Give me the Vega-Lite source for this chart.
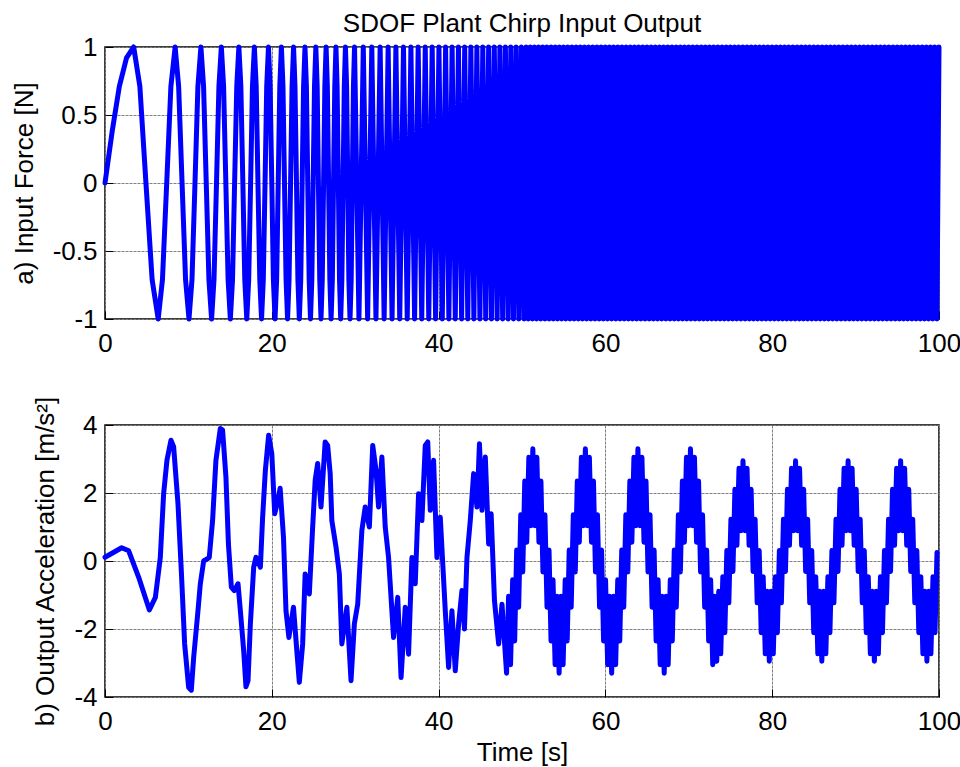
{
"$schema":"https://vega.github.io/schema/vega-lite/v6.json",
"background":"white",
"padding":{"left":10,"top":10,"right":20,"bottom":5},
"config":{
 "font":"Liberation Sans",
 "view":{"stroke":"#000","strokeWidth":1.5},
 "axis":{"domain":false,"labelFont":"Liberation Sans","labelFontSize":26,"labelColor":"#000","labelOverlap":false,"labelFlush":false,"tickColor":"#000","tickSize":-8,"tickWidth":1,"titleFont":"Liberation Sans","titleFontSize":26,"titleFontWeight":"normal","titleColor":"#000","gridColor":"#808080","gridDash":[3,1],"gridWidth":1,"gridOpacity":1},
 "axisX":{"labelPadding":19,"titlePadding":5},
 "axisY":{"labelPadding":16,"titlePadding":15}
},
"spacing":106,
"bounds":"flush",
"datasets":{
"a":[{"t":0,"v":0},{"t":0.86,"v":0.38},{"t":1.72,"v":0.71},{"t":2.58,"v":0.92},{"t":3.44,"v":1},
{"t":4.18,"v":0.71},{"t":4.91,"v":0},{"t":5.65,"v":-0.71},{"t":6.38,"v":-1},
{"t":6.89,"v":-0.71},{"t":7.4,"v":0},{"t":7.9,"v":0.71},{"t":8.41,"v":1},
{"t":8.83,"v":0.71},{"t":9.24,"v":0},{"t":9.66,"v":-0.71},{"t":10.07,"v":-1},
{"t":10.43,"v":-0.71},{"t":10.79,"v":0},{"t":11.14,"v":0.71},{"t":11.5,"v":1},
{"t":11.82,"v":0.71},{"t":12.14,"v":0},{"t":12.46,"v":-0.71},{"t":12.78,"v":-1},
{"t":13.07,"v":-0.71},{"t":13.37,"v":0},{"t":13.66,"v":0.71},{"t":13.95,"v":1},
{"t":14.22,"v":0.71},{"t":14.49,"v":0},{"t":14.76,"v":-0.71},{"t":15.03,"v":-1},
{"t":15.29,"v":-0.71},{"t":15.54,"v":0},{"t":15.8,"v":0.71},{"t":16.05,"v":1},
{"t":16.29,"v":0.71},{"t":16.53,"v":0},{"t":16.76,"v":-0.71},{"t":17,"v":-1},
{"t":17.23,"v":-0.71},{"t":17.46,"v":0},{"t":17.68,"v":0.71},{"t":17.91,"v":1},
{"t":18.13,"v":0.71},{"t":18.34,"v":0},{"t":18.56,"v":-0.71},{"t":18.77,"v":-1},
{"t":18.98,"v":-0.71},{"t":19.19,"v":0},{"t":19.39,"v":0.71},{"t":19.6,"v":1},
{"t":19.8,"v":0.71},{"t":20,"v":0},{"t":20.19,"v":-0.71},{"t":20.39,"v":-1},
{"t":20.58,"v":-0.71},{"t":20.77,"v":0},{"t":20.96,"v":0.71},{"t":21.15,"v":1},
{"t":21.34,"v":0.71},{"t":21.52,"v":0},{"t":21.71,"v":-0.71},{"t":21.89,"v":-1},
{"t":22.07,"v":-0.71},{"t":22.25,"v":0},{"t":22.43,"v":0.71},{"t":22.61,"v":1},
{"t":22.78,"v":0.71},{"t":22.96,"v":0},{"t":23.13,"v":-0.71},{"t":23.3,"v":-1},
{"t":23.47,"v":-0.71},{"t":23.64,"v":0},{"t":23.81,"v":0.71},{"t":23.98,"v":1},
{"t":24.15,"v":0.71},{"t":24.31,"v":0},{"t":24.48,"v":-0.71},{"t":24.64,"v":-1},
{"t":24.8,"v":-0.71},{"t":24.96,"v":0},{"t":25.12,"v":0.71},{"t":25.28,"v":1},
{"t":25.44,"v":0.71},{"t":25.59,"v":0},{"t":25.75,"v":-0.71},{"t":25.9,"v":-1},
{"t":26.05,"v":-0.71},{"t":26.21,"v":0},{"t":26.36,"v":0.71},{"t":26.51,"v":1},
{"t":26.66,"v":0.71},{"t":26.81,"v":0},{"t":26.96,"v":-0.71},{"t":27.11,"v":-1},
{"t":27.26,"v":-0.71},{"t":27.4,"v":0},{"t":27.55,"v":0.71},{"t":27.69,"v":1},
{"t":27.83,"v":0.71},{"t":27.98,"v":0},{"t":28.12,"v":-0.71},{"t":28.26,"v":-1},
{"t":28.4,"v":-0.71},{"t":28.55,"v":0},{"t":28.69,"v":0.71},{"t":28.83,"v":1},
{"t":28.97,"v":0.71},{"t":29.11,"v":0},{"t":29.24,"v":-0.71},{"t":29.38,"v":-1},
{"t":29.52,"v":-0.71},{"t":29.65,"v":0},{"t":29.79,"v":0.71},{"t":29.92,"v":1},
{"t":30.45,"v":-1},{"t":30.97,"v":1},{"t":31.49,"v":-1},{"t":31.99,"v":1},{"t":32.49,"v":-1},{"t":32.99,"v":1},{"t":33.47,"v":-1},{"t":33.95,"v":1},{"t":34.42,"v":-1},{"t":34.88,"v":1},{"t":35.34,"v":-1},{"t":35.79,"v":1},{"t":36.24,"v":-1},{"t":36.68,"v":1},{"t":37.12,"v":-1},{"t":37.55,"v":1},{"t":37.98,"v":-1},{"t":38.4,"v":1},{"t":38.82,"v":-1},{"t":39.23,"v":1},{"t":39.64,"v":-1},{"t":40.04,"v":1},{"t":40.44,"v":-1},{"t":40.84,"v":1},{"t":41.23,"v":-1},{"t":41.62,"v":1},{"t":42,"v":-1},{"t":42.38,"v":1},{"t":42.76,"v":-1},{"t":43.13,"v":1},{"t":43.5,"v":-1},{"t":43.87,"v":1},{"t":44.23,"v":-1},{"t":44.59,"v":1},{"t":44.95,"v":-1},{"t":45.3,"v":1},{"t":45.65,"v":-1},{"t":46,"v":1},{"t":46.34,"v":-1},{"t":46.68,"v":1},{"t":47.02,"v":-1},{"t":47.35,"v":1},{"t":47.68,"v":-1},{"t":48.01,"v":1},{"t":48.34,"v":-1},{"t":48.66,"v":1},{"t":48.98,"v":-1},{"t":49.3,"v":1},{"t":49.62,"v":-1},{"t":49.93,"v":1},
{"t":50.25,"v":-1},{"t":50.5,"v":1},{"t":50.75,"v":-1},{"t":51,"v":1},
{"t":51.25,"v":-1},{"t":51.5,"v":1},{"t":51.75,"v":-1},{"t":52,"v":1},
{"t":52.25,"v":-1},{"t":52.5,"v":1},{"t":52.75,"v":-1},{"t":53,"v":1},
{"t":53.25,"v":-1},{"t":53.5,"v":1},{"t":53.75,"v":-1},{"t":54,"v":1},
{"t":54.25,"v":-1},{"t":54.5,"v":1},{"t":54.75,"v":-1},{"t":55,"v":1},
{"t":55.25,"v":-1},{"t":55.5,"v":1},{"t":55.75,"v":-1},{"t":56,"v":1},
{"t":56.25,"v":-1},{"t":56.5,"v":1},{"t":56.75,"v":-1},{"t":57,"v":1},
{"t":57.25,"v":-1},{"t":57.5,"v":1},{"t":57.75,"v":-1},{"t":58,"v":1},
{"t":58.25,"v":-1},{"t":58.5,"v":1},{"t":58.75,"v":-1},{"t":59,"v":1},
{"t":59.25,"v":-1},{"t":59.5,"v":1},{"t":59.75,"v":-1},{"t":60,"v":1},
{"t":60.25,"v":-1},{"t":60.5,"v":1},{"t":60.75,"v":-1},{"t":61,"v":1},
{"t":61.25,"v":-1},{"t":61.5,"v":1},{"t":61.75,"v":-1},{"t":62,"v":1},
{"t":62.25,"v":-1},{"t":62.5,"v":1},{"t":62.75,"v":-1},{"t":63,"v":1},
{"t":63.25,"v":-1},{"t":63.5,"v":1},{"t":63.75,"v":-1},{"t":64,"v":1},
{"t":64.25,"v":-1},{"t":64.5,"v":1},{"t":64.75,"v":-1},{"t":65,"v":1},
{"t":65.25,"v":-1},{"t":65.5,"v":1},{"t":65.75,"v":-1},{"t":66,"v":1},
{"t":66.25,"v":-1},{"t":66.5,"v":1},{"t":66.75,"v":-1},{"t":67,"v":1},
{"t":67.25,"v":-1},{"t":67.5,"v":1},{"t":67.75,"v":-1},{"t":68,"v":1},
{"t":68.25,"v":-1},{"t":68.5,"v":1},{"t":68.75,"v":-1},{"t":69,"v":1},
{"t":69.25,"v":-1},{"t":69.5,"v":1},{"t":69.75,"v":-1},{"t":70,"v":1},
{"t":70.25,"v":-1},{"t":70.5,"v":1},{"t":70.75,"v":-1},{"t":71,"v":1},
{"t":71.25,"v":-1},{"t":71.5,"v":1},{"t":71.75,"v":-1},{"t":72,"v":1},
{"t":72.25,"v":-1},{"t":72.5,"v":1},{"t":72.75,"v":-1},{"t":73,"v":1},
{"t":73.25,"v":-1},{"t":73.5,"v":1},{"t":73.75,"v":-1},{"t":74,"v":1},
{"t":74.25,"v":-1},{"t":74.5,"v":1},{"t":74.75,"v":-1},{"t":75,"v":1},
{"t":75.25,"v":-1},{"t":75.5,"v":1},{"t":75.75,"v":-1},{"t":76,"v":1},
{"t":76.25,"v":-1},{"t":76.5,"v":1},{"t":76.75,"v":-1},{"t":77,"v":1},
{"t":77.25,"v":-1},{"t":77.5,"v":1},{"t":77.75,"v":-1},{"t":78,"v":1},
{"t":78.25,"v":-1},{"t":78.5,"v":1},{"t":78.75,"v":-1},{"t":79,"v":1},
{"t":79.25,"v":-1},{"t":79.5,"v":1},{"t":79.75,"v":-1},{"t":80,"v":1},
{"t":80.25,"v":-1},{"t":80.5,"v":1},{"t":80.75,"v":-1},{"t":81,"v":1},
{"t":81.25,"v":-1},{"t":81.5,"v":1},{"t":81.75,"v":-1},{"t":82,"v":1},
{"t":82.25,"v":-1},{"t":82.5,"v":1},{"t":82.75,"v":-1},{"t":83,"v":1},
{"t":83.25,"v":-1},{"t":83.5,"v":1},{"t":83.75,"v":-1},{"t":84,"v":1},
{"t":84.25,"v":-1},{"t":84.5,"v":1},{"t":84.75,"v":-1},{"t":85,"v":1},
{"t":85.25,"v":-1},{"t":85.5,"v":1},{"t":85.75,"v":-1},{"t":86,"v":1},
{"t":86.25,"v":-1},{"t":86.5,"v":1},{"t":86.75,"v":-1},{"t":87,"v":1},
{"t":87.25,"v":-1},{"t":87.5,"v":1},{"t":87.75,"v":-1},{"t":88,"v":1},
{"t":88.25,"v":-1},{"t":88.5,"v":1},{"t":88.75,"v":-1},{"t":89,"v":1},
{"t":89.25,"v":-1},{"t":89.5,"v":1},{"t":89.75,"v":-1},{"t":90,"v":1},
{"t":90.25,"v":-1},{"t":90.5,"v":1},{"t":90.75,"v":-1},{"t":91,"v":1},
{"t":91.25,"v":-1},{"t":91.5,"v":1},{"t":91.75,"v":-1},{"t":92,"v":1},
{"t":92.25,"v":-1},{"t":92.5,"v":1},{"t":92.75,"v":-1},{"t":93,"v":1},
{"t":93.25,"v":-1},{"t":93.5,"v":1},{"t":93.75,"v":-1},{"t":94,"v":1},
{"t":94.25,"v":-1},{"t":94.5,"v":1},{"t":94.75,"v":-1},{"t":95,"v":1},
{"t":95.25,"v":-1},{"t":95.5,"v":1},{"t":95.75,"v":-1},{"t":96,"v":1},
{"t":96.25,"v":-1},{"t":96.5,"v":1},{"t":96.75,"v":-1},{"t":97,"v":1},
{"t":97.25,"v":-1},{"t":97.5,"v":1},{"t":97.75,"v":-1},{"t":98,"v":1},
{"t":98.25,"v":-1},{"t":98.5,"v":1},{"t":98.75,"v":-1},{"t":99,"v":1},
{"t":99.25,"v":-1},{"t":99.5,"v":1},{"t":99.75,"v":-1},{"t":100,"v":1}],
"b":[{"t":0,"v":0.11},{"t":1,"v":0.25},{"t":2,"v":0.39},{"t":2.84,"v":0.3},{"t":4.04,"v":-0.48},{"t":5.32,"v":-1.44},{"t":6.04,"v":-1.07},{"t":6.63,"v":0.1},{"t":7.03,"v":1.98},{"t":7.43,"v":2.96},{"t":7.91,"v":3.55},{"t":8.23,"v":3.36},{"t":8.75,"v":1.69},{"t":9.15,"v":-0.28},{"t":9.55,"v":-2.44},{"t":10.03,"v":-3.72},{"t":10.35,"v":-3.8},{"t":10.63,"v":-2.84},{"t":11.15,"v":-1.46},{"t":11.43,"v":-0.67},{"t":11.83,"v":0},{"t":12.5,"v":0.1},{"t":12.9,"v":1.19},{"t":13.3,"v":2.96},{"t":13.83,"v":3.9},{"t":14.1,"v":3.85},{"t":14.5,"v":2.47},{"t":14.8,"v":0.5},{"t":15.15,"v":-0.77},{"t":15.5,"v":-0.87},{"t":15.95,"v":-0.67},{"t":16.23,"v":-1.46},{"t":16.63,"v":-2.64},{"t":16.9,"v":-3.7},{"t":17.15,"v":-3.52},{"t":17.43,"v":-1.85},{"t":17.83,"v":-0.18},{"t":18.1,"v":0.11},{"t":18.63,"v":-0.18},{"t":18.9,"v":1.29},{"t":19.23,"v":2.67},{"t":19.62,"v":3.7},{"t":20,"v":3.16},{"t":20.35,"v":1.39},{"t":20.74,"v":1.78},{"t":21,"v":2.14},{"t":21.4,"v":0.7},{"t":21.7,"v":-1.46},{"t":22.05,"v":-2.25},{"t":22.6,"v":-1.36},{"t":23,"v":-2.64},{"t":23.3,"v":-3.57},{"t":23.7,"v":-2.44},{"t":24,"v":-0.38},{"t":24.5,"v":-0.97},{"t":24.9,"v":1},{"t":25.2,"v":2.37},{"t":25.5,"v":2.87},{"t":25.9,"v":1.59},{"t":26.4,"v":3.5},{"t":26.7,"v":3.4},{"t":27,"v":2.57},{"t":27.2,"v":1.19},{"t":27.7,"v":0.41},{"t":28.1,"v":-0.38},{"t":28.4,"v":-2.44},{"t":29,"v":-1.36},{"t":29.5,"v":-3.52},{"t":29.9,"v":-1.85},{"t":30.3,"v":-1.27},{"t":30.8,"v":0.9},{"t":31.2,"v":1.59},{"t":31.7,"v":1},{"t":32.1,"v":3.4},{"t":32.5,"v":2.67},{"t":32.8,"v":1.59},{"t":33.2,"v":3.06},{"t":33.6,"v":1},{"t":34,"v":0.1},{"t":34.6,"v":-2.25},{"t":35.1,"v":-1.07},{"t":35.5,"v":-3.43},{"t":36,"v":-1.36},{"t":36.4,"v":-2.74},{"t":36.8,"v":0.1},{"t":37.2,"v":-0.67},{"t":37.6,"v":1.98},{"t":38,"v":1.19},{"t":38.4,"v":3.4},{"t":38.7,"v":3.5},{"t":39,"v":1.49},{"t":39.4,"v":2.96},{"t":39.8,"v":0.1},{"t":40.2,"v":1.29},{"t":40.8,"v":-1.46},{"t":41.2,"v":-3.13},{"t":41.6,"v":-1.46},{"t":42,"v":-3.23},{"t":42.4,"v":-1.85},{"t":42.8,"v":-0.87},{"t":43.1,"v":-2},{"t":43.4,"v":0.1},{"t":43.8,"v":1.19},{"t":44.2,"v":2.57},{"t":44.6,"v":1.59},{"t":44.9,"v":3.45},{"t":45.2,"v":1.49},{"t":45.6,"v":3.06},{"t":46,"v":0.5},{"t":46.3,"v":1.39},{"t":46.7,"v":-1.17},{"t":47.2,"v":-2.44},{"t":47.6,"v":-1.27},
{"t":48.15,"v":-3.3},{"t":48.39,"v":-1.04},{"t":48.63,"v":-3.05},{"t":48.88,"v":-0.55},{"t":49.12,"v":-2.35},{"t":49.36,"v":0.32},{"t":49.6,"v":-1.36},{"t":49.85,"v":1.36},{"t":50.09,"v":-0.32},{"t":50.33,"v":2.35},{"t":50.57,"v":0.55},{"t":50.82,"v":3.05},{"t":51.06,"v":1.04},
{"t":51.3,"v":3.3},{"t":51.54,"v":1.04},{"t":51.78,"v":3.05},{"t":52.03,"v":0.55},{"t":52.27,"v":2.35},{"t":52.51,"v":-0.32},{"t":52.75,"v":1.36},{"t":53,"v":-1.36},{"t":53.24,"v":0.32},{"t":53.48,"v":-2.35},{"t":53.72,"v":-0.55},{"t":53.97,"v":-3.05},{"t":54.21,"v":-1.04},
{"t":54.45,"v":-3.3},{"t":54.69,"v":-1.04},{"t":54.93,"v":-3.05},{"t":55.18,"v":-0.55},{"t":55.42,"v":-2.35},{"t":55.66,"v":0.32},{"t":55.9,"v":-1.36},{"t":56.15,"v":1.36},{"t":56.39,"v":-0.32},{"t":56.63,"v":2.35},{"t":56.87,"v":0.55},{"t":57.12,"v":3.05},{"t":57.36,"v":1.04},
{"t":57.6,"v":3.3},{"t":57.84,"v":1.04},{"t":58.08,"v":3.05},{"t":58.33,"v":0.55},{"t":58.57,"v":2.35},{"t":58.81,"v":-0.32},{"t":59.05,"v":1.36},{"t":59.3,"v":-1.36},{"t":59.54,"v":0.32},{"t":59.78,"v":-2.35},{"t":60.02,"v":-0.55},{"t":60.27,"v":-3.05},{"t":60.51,"v":-1.04},
{"t":60.75,"v":-3.3},{"t":60.99,"v":-1.04},{"t":61.23,"v":-3.05},{"t":61.48,"v":-0.55},{"t":61.72,"v":-2.35},{"t":61.96,"v":0.32},{"t":62.2,"v":-1.36},{"t":62.45,"v":1.36},{"t":62.69,"v":-0.32},{"t":62.93,"v":2.35},{"t":63.17,"v":0.55},{"t":63.42,"v":3.05},{"t":63.66,"v":1.04},
{"t":63.9,"v":3.3},{"t":64.14,"v":1.04},{"t":64.38,"v":3.05},{"t":64.63,"v":0.55},{"t":64.87,"v":2.35},{"t":65.11,"v":-0.32},{"t":65.35,"v":1.36},{"t":65.6,"v":-1.36},{"t":65.84,"v":0.32},{"t":66.08,"v":-2.35},{"t":66.32,"v":-0.55},{"t":66.57,"v":-3.05},{"t":66.81,"v":-1.04},
{"t":67.05,"v":-3.3},{"t":67.29,"v":-1.04},{"t":67.53,"v":-3.05},{"t":67.78,"v":-0.55},{"t":68.02,"v":-2.35},{"t":68.26,"v":0.32},{"t":68.5,"v":-1.36},{"t":68.75,"v":1.36},{"t":68.99,"v":-0.32},{"t":69.23,"v":2.35},{"t":69.47,"v":0.55},{"t":69.72,"v":3.05},{"t":69.96,"v":1.04},
{"t":70.2,"v":3.3},{"t":70.44,"v":1.04},{"t":70.68,"v":3.05},{"t":70.93,"v":0.55},{"t":71.17,"v":2.35},{"t":71.41,"v":-0.32},{"t":71.65,"v":1.36},{"t":71.9,"v":-1.36},{"t":72.14,"v":0.32},{"t":72.38,"v":-2.35},{"t":72.62,"v":-0.55},{"t":72.87,"v":-3.05},{"t":73.11,"v":-1.04},
{"t":73.35,"v":-2.95},{"t":73.59,"v":-0.89},{"t":73.83,"v":-2.73},{"t":74.08,"v":-0.46},{"t":74.32,"v":-2.11},{"t":74.56,"v":0.31},{"t":74.8,"v":-1.23},{"t":75.05,"v":1.23},{"t":75.29,"v":-0.31},{"t":75.53,"v":2.11},{"t":75.77,"v":0.46},{"t":76.02,"v":2.73},{"t":76.26,"v":0.89},
{"t":76.5,"v":2.95},{"t":76.74,"v":0.89},{"t":76.98,"v":2.73},{"t":77.23,"v":0.46},{"t":77.47,"v":2.11},{"t":77.71,"v":-0.31},{"t":77.95,"v":1.23},{"t":78.2,"v":-1.23},{"t":78.44,"v":0.31},{"t":78.68,"v":-2.11},{"t":78.92,"v":-0.46},{"t":79.17,"v":-2.73},{"t":79.41,"v":-0.89},
{"t":79.65,"v":-2.95},{"t":79.89,"v":-0.89},{"t":80.13,"v":-2.73},{"t":80.38,"v":-0.46},{"t":80.62,"v":-2.11},{"t":80.86,"v":0.31},{"t":81.1,"v":-1.23},{"t":81.35,"v":1.23},{"t":81.59,"v":-0.31},{"t":81.83,"v":2.11},{"t":82.07,"v":0.46},{"t":82.32,"v":2.73},{"t":82.56,"v":0.89},
{"t":82.8,"v":2.95},{"t":83.04,"v":0.89},{"t":83.28,"v":2.73},{"t":83.53,"v":0.46},{"t":83.77,"v":2.11},{"t":84.01,"v":-0.31},{"t":84.25,"v":1.23},{"t":84.5,"v":-1.23},{"t":84.74,"v":0.31},{"t":84.98,"v":-2.11},{"t":85.22,"v":-0.46},{"t":85.47,"v":-2.73},{"t":85.71,"v":-0.89},
{"t":85.95,"v":-2.95},{"t":86.19,"v":-0.89},{"t":86.43,"v":-2.73},{"t":86.68,"v":-0.46},{"t":86.92,"v":-2.11},{"t":87.16,"v":0.31},{"t":87.4,"v":-1.23},{"t":87.65,"v":1.23},{"t":87.89,"v":-0.31},{"t":88.13,"v":2.11},{"t":88.37,"v":0.46},{"t":88.62,"v":2.73},{"t":88.86,"v":0.89},
{"t":89.1,"v":2.95},{"t":89.34,"v":0.89},{"t":89.58,"v":2.73},{"t":89.83,"v":0.46},{"t":90.07,"v":2.11},{"t":90.31,"v":-0.31},{"t":90.55,"v":1.23},{"t":90.8,"v":-1.23},{"t":91.04,"v":0.31},{"t":91.28,"v":-2.11},{"t":91.52,"v":-0.46},{"t":91.77,"v":-2.73},{"t":92.01,"v":-0.89},
{"t":92.25,"v":-2.95},{"t":92.49,"v":-0.89},{"t":92.73,"v":-2.73},{"t":92.98,"v":-0.46},{"t":93.22,"v":-2.11},{"t":93.46,"v":0.31},{"t":93.7,"v":-1.23},{"t":93.95,"v":1.23},{"t":94.19,"v":-0.31},{"t":94.43,"v":2.11},{"t":94.67,"v":0.46},{"t":94.92,"v":2.73},{"t":95.16,"v":0.89},
{"t":95.4,"v":2.95},{"t":95.64,"v":0.89},{"t":95.88,"v":2.73},{"t":96.13,"v":0.46},{"t":96.37,"v":2.11},{"t":96.61,"v":-0.31},{"t":96.85,"v":1.23},{"t":97.1,"v":-1.23},{"t":97.34,"v":0.31},{"t":97.58,"v":-2.11},{"t":97.82,"v":-0.46},{"t":98.07,"v":-2.73},{"t":98.31,"v":-0.89},
{"t":98.55,"v":-2.95},{"t":98.79,"v":-0.89},{"t":99.03,"v":-2.73},{"t":99.28,"v":-0.46},{"t":99.52,"v":-2.11},{"t":99.76,"v":0.25}]
},
"vconcat":[
{
 "width":834,"height":272,
 "title":{"text":"SDOF Plant Chirp Input Output","font":"Liberation Sans","fontSize":26,"fontWeight":"normal","color":"#000","anchor":"middle","frame":"group","baseline":"alphabetic","offset":-24},
 "data":{"name":"a"},
 "mark":{"type":"line","color":"#0000ff","strokeWidth":5,"strokeJoin":"round","strokeCap":"round","clip":false},
 "encoding":{
  "x":{"field":"t","type":"quantitative","scale":{"domain":[0,100],"nice":false,"zero":false},"axis":{"values":[0,20,40,60,80,100],"title":null,"labelExpr":"datum.value + ''"}},
  "y":{"field":"v","type":"quantitative","scale":{"domain":[-1,1],"nice":false},"axis":{"values":[-1,-0.5,0,0.5,1],"title":"a) Input Force [N]","labelExpr":"datum.value + ''"}}
 }
},
{
 "width":834,"height":272,
 "data":{"name":"b"},
 "mark":{"type":"line","color":"#0000ff","strokeWidth":5,"strokeJoin":"round","strokeCap":"round","clip":false},
 "encoding":{
  "x":{"field":"t","type":"quantitative","scale":{"domain":[0,100],"nice":false,"zero":false},"axis":{"values":[0,20,40,60,80,100],"title":"Time [s]","labelExpr":"datum.value + ''"}},
  "y":{"field":"v","type":"quantitative","scale":{"domain":[-4,4],"nice":false},"axis":{"values":[-4,-2,0,2,4],"title":"b) Output Acceleration [m/s²]","labelExpr":"datum.value + ''"}}
 }
}
]
}
